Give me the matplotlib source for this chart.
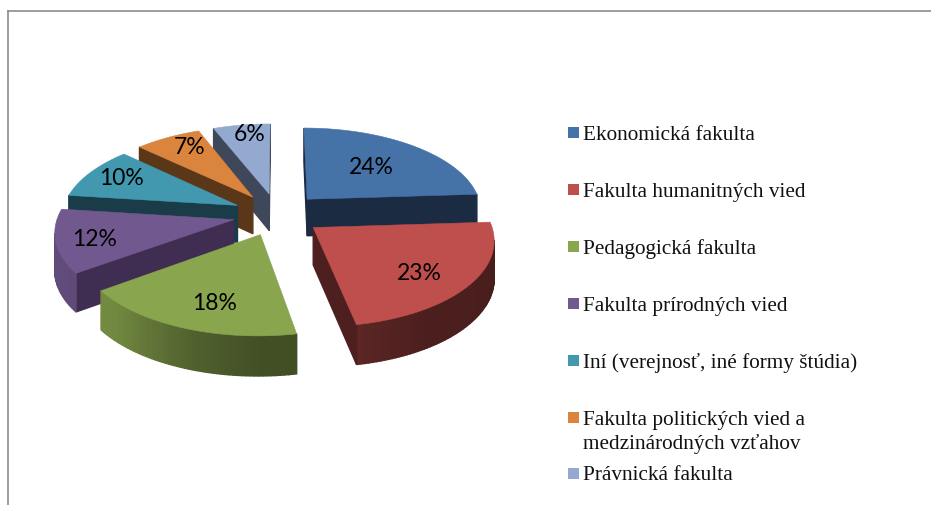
import numpy as np
import matplotlib
matplotlib.use("Agg")
import matplotlib.pyplot as plt
from matplotlib.patches import Polygon, Rectangle
from matplotlib.colors import to_rgb

labels = ["Ekonomická fakulta", "Fakulta humanitných vied", "Pedagogická fakulta",
          "Fakulta prírodných vied", "Iní (verejnosť, iné formy štúdia)",
          "Fakulta politických vied a\nmedzinárodných vzťahov", "Právnická fakulta"]
shares = [24, 23, 18, 12, 10, 7, 6]
colors = ["#4573A7", "#BE4F4C", "#89A54E", "#71588F", "#4198AF", "#DB843D", "#93A9CF"]
cut_colors = ["#1B2B42", "#4E1F1F", "#4E1F1F", "#3F2D52", "#1A3C48", "#5A3719", "#3E485A"]

# perspective pie geometry (pixels), fitted to the reference
CX, CY, RX, RY, PERSP, EXPLODE = 277.3, 215.3, 175.5, 83.4, 0.123, 0.254

cum = np.cumsum([0] + shares)
rad = np.pi / 50.0
mids = (cum[:-1] + cum[1:]) / 2 * rad


def proj(i, r, th):
    u = r * np.sin(th) + EXPLODE * np.sin(mids[i])
    v = r * np.cos(th) + EXPLODE * np.cos(mids[i])
    s = 1 / (1 + PERSP * v)
    return CX + RX * u * s, CY - RY * v * s, v


def shade(deg):
    return np.interp(deg, [0, 86, 110, 150, 169, 180, 200, 225, 240, 360],
                     [.4, .36, .38, .4, .48, .48, .6, .82, .85, .85])


def depth(v):
    return 37 - 2.5 * v


fig = plt.figure(figsize=(9.31, 5.06), dpi=100)
ax = fig.add_axes([0, 0, 1, 1])
ax.set_xlim(0, 931)
ax.set_ylim(506, 0)
ax.axis("off")

z = 2.0
for i in np.argsort(-np.cos(mids)):
    t0, t1 = cum[i] * rad, cum[i + 1] * rad
    ths = np.linspace(t0, t1, int(shares[i] * 3) + 2)
    pts = [proj(i, 0, 0)] + [proj(i, 1, t) for t in ths]
    xy = np.array([(a, b) for a, b, _ in pts])
    vs = np.array([c for *_, c in pts])
    cen = xy.mean(0)
    n = len(xy)
    base = np.array(to_rgb(colors[i]))
    for k in range(n):
        j = (k + 1) % n
        A, B = xy[k], xy[j]
        nor = np.array([B[1] - A[1], -(B[0] - A[0])])
        if np.dot((A + B) / 2 - cen, nor) < 0:
            nor = -nor
        if nor[1] <= 0:
            continue
        if k == 0 or j == 0:
            col = cut_colors[i]
        else:
            col = base * shade(np.degrees((ths[k - 1] + ths[k]) / 2))
        q = [A, B, B + [0, depth(vs[j])], A + [0, depth(vs[k])]]
        ax.add_patch(Polygon(q, closed=True, fc=col, ec=col, lw=1.0, zorder=z))
    z += 0.01
    ax.add_patch(Polygon(xy, closed=True, fc=colors[i], ec=colors[i], lw=0.4, zorder=z))
    z += 0.01

pct_pos = [(371, 167), (419, 274), (215, 304), (95, 240), (121, 178), (190, 147), (250, 134)]
for s, (x, y) in zip(shares, pct_pos):
    ax.text(x, y, f"{s}%", family="Lato", fontsize=16.5, ha="center", va="center",
            color="k", zorder=6)

text_y = [135, 192, 249, 306, 363, 432.5, 476]
mark_y = [133, 190, 247, 304, 361, 418, 474]
for l, c, y, m in zip(labels, colors, text_y, mark_y):
    ax.add_patch(Rectangle((568, m - 5.5), 11, 11, fc=c, ec="none"))
    ax.text(583, y, l, family="Liberation Serif", fontsize=15.3, va="center", ha="left",
            color="#111111", linespacing=1.25)

ax.plot([8, 8], [506, 12], color="#8c8c8c", lw=1.2)
ax.plot([8, 931], [12, 12], color="#8c8c8c", lw=1.2)
fig.savefig("out.png", dpi=100)
